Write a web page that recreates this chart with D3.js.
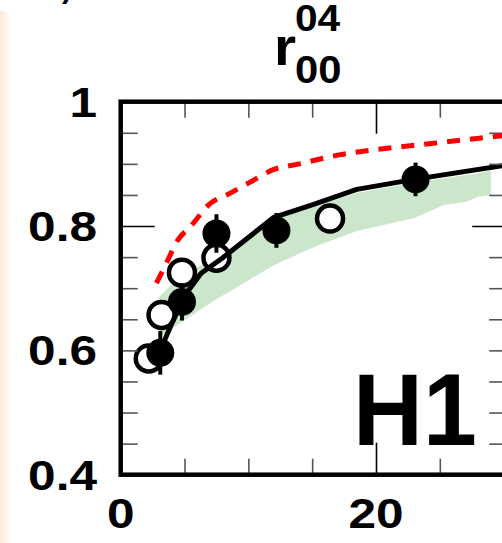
<!DOCTYPE html>
<html>
<head>
<meta charset="utf-8">
<script src="https://cdn.jsdelivr.net/npm/d3@7"></script>
<style>
  body { margin: 0; background: #fff; }
  svg { display: block; }
  text { font-family: "Liberation Sans", Arial, sans-serif; font-weight: bold; fill: #000; }
</style>
</head>
<body>
<script>
// filled points (data 1) with errors
let filledQ2 = [3.1, 4.8, 7.5, 12.2, 23.1];
let filledR = [0.596, 0.678, 0.788, 0.793, 0.875];
let filledErr = [0.035, 0.03, 0.031, 0.028, 0.027];

// open points (data 2)
let openQ2 = [2.2, 3.2, 4.8, 7.5, 16.4];
let openR = [0.587, 0.657, 0.725, 0.749, 0.812];

// model curves
let solidQ2 = [3.1, 4.0, 5.0, 6.3, 8.0, 12.0, 15.0, 18.5, 23.0, 30.2];
let solidR = [0.600, 0.643, 0.688, 0.724, 0.749, 0.814, 0.834, 0.859, 0.875, 0.898];

let dashQ2 = [2.8, 3.5, 4.5, 5.5, 7.0, 8.5, 10, 12, 14, 17, 20, 24, 30.2];
let dashR = [0.708, 0.737, 0.778, 0.800, 0.836, 0.852, 0.869, 0.891, 0.900, 0.914, 0.923, 0.932, 0.946];

// green band
let bandQ2 = [3.0, 4.1, 5.7, 7.3, 9.3, 12, 15, 18.5, 23, 25.3, 27.1, 28.0, 29.0];
let bandLow = [0.620, 0.636, 0.658, 0.680, 0.704, 0.737, 0.765, 0.792, 0.813, 0.834, 0.839, 0.847, 0.850];
let bandHigh = [0.686, 0.708, 0.729, 0.750, 0.772, 0.810, 0.830, 0.853, 0.870, 0.877, 0.882, 0.885, 0.889];

let xTickLabels = [0, 20];
let yTickLabels = [0.4, 0.6, 0.8, 1];
let xMinor = [5, 10, 15, 25];
let xMajor = [20];
let yMinor = [0.45, 0.5, 0.55, 0.6, 0.65, 0.7, 0.75, 0.85, 0.9, 0.95];
let yMajor = [0.8];

let svgWidth = 502;
let svgHeight = 543;

let svg = d3.select('body')
  .append('svg')
  .attr('width', svgWidth)
  .attr('height', svgHeight);

// soft peach edge at the left
let grad = svg.append('defs').append('linearGradient')
  .attr('id', 'edge')
  .attr('x1', '0').attr('x2', '1').attr('y1', '0').attr('y2', '0');
grad.append('stop').attr('offset', '0').attr('stop-color', '#fbe2c4');
grad.append('stop').attr('offset', '0.6').attr('stop-color', '#fdeedd');
grad.append('stop').attr('offset', '1').attr('stop-color', '#ffffff');

svg.append('rect')
  .attr('x', -10).attr('y', 11)
  .attr('width', 21).attr('height', 560)
  .attr('rx', 8)
  .attr('fill', 'url(#edge)');

let x = d3.scaleLinear().domain([0, 30.2]).range([120.7, 120.7 + 30.2 * 12.765]);
let y = d3.scaleLinear().domain([0.4, 1]).range([474.7, 101.7]);

let x0 = x(0), x1 = x(30.2), y0 = y(0.4), y1 = y(1);

// band
let band = bandQ2.map((q, i) => ({ q: q, lo: bandLow[i], hi: bandHigh[i] }));
svg.append('path')
  .datum(band)
  .attr('fill', '#cce6cb')
  .attr('d', d3.area().x(d => x(d.q)).y0(d => y(d.lo)).y1(d => y(d.hi)));

// red dashed curve
svg.append('path')
  .datum(dashQ2.map((q, i) => [q, dashR[i]]))
  .attr('fill', 'none')
  .attr('stroke', '#ff0000')
  .attr('stroke-width', 5)
  .attr('stroke-dasharray', '13,10')
  .attr('d', d3.line().x(d => x(d[0])).y(d => y(d[1])).curve(d3.curveMonotoneX));

// open circles
svg.selectAll('.open')
  .data(openQ2.map((q, i) => [q, openR[i]]))
  .enter()
  .append('circle')
  .attr('cx', d => x(d[0]))
  .attr('cy', d => y(d[1]))
  .attr('r', 13)
  .attr('fill', '#fff')
  .attr('stroke', '#000')
  .attr('stroke-width', 4.5);

// black solid curve
svg.append('path')
  .datum(solidQ2.map((q, i) => [q, solidR[i]]))
  .attr('fill', 'none')
  .attr('stroke', '#000')
  .attr('stroke-width', 5)
  .attr('stroke-linejoin', 'round')
  .attr('d', d3.line().x(d => x(d[0])).y(d => y(d[1])));

// filled points with error bars
let filled = filledQ2.map((q, i) => ({ q: q, r: filledR[i], e: filledErr[i] }));
svg.selectAll('.err')
  .data(filled)
  .enter()
  .append('line')
  .attr('x1', d => x(d.q)).attr('x2', d => x(d.q))
  .attr('y1', d => y(d.r - d.e)).attr('y2', d => y(d.r + d.e))
  .attr('stroke', '#000')
  .attr('stroke-width', 4);

svg.selectAll('.filled')
  .data(filled)
  .enter()
  .append('circle')
  .attr('cx', d => x(d.q))
  .attr('cy', d => y(d.r))
  .attr('r', 14)
  .attr('fill', '#000');

// ticks, drawn inward on all four sides
function ticks(axis, values, size, color, transform) {
  let g = svg.append('g')
    .attr('transform', transform)
    .call(axis.tickValues(values).tickSize(-size).tickFormat(''));
  g.select('.domain').remove();
  g.selectAll('line').attr('stroke', color).attr('stroke-width', 1.6);
}
ticks(d3.axisBottom(x), xMinor, 16, '#555', `translate(0,${y0})`);
ticks(d3.axisBottom(x), xMajor, 32, '#000', `translate(0,${y0})`);
ticks(d3.axisTop(x), xMinor, 16, '#555', `translate(0,${y1})`);
ticks(d3.axisTop(x), xMajor, 32, '#000', `translate(0,${y1})`);
ticks(d3.axisLeft(y), yMinor, 17, '#555', `translate(${x0},0)`);
ticks(d3.axisLeft(y), yMajor, 34, '#000', `translate(${x0},0)`);
ticks(d3.axisRight(y), yMinor, 17, '#555', `translate(${x1},0)`);
ticks(d3.axisRight(y), yMajor, 34, '#000', `translate(${x1},0)`);

// frame
svg.append('rect')
  .attr('x', x0).attr('y', y1)
  .attr('width', x1 - x0).attr('height', y0 - y1)
  .attr('fill', 'none')
  .attr('stroke', '#000')
  .attr('stroke-width', 4.5);

// stretched bold text helper
function label(tx, ty, str, size, anchor, sx) {
  return svg.append('text')
    .attr('transform', `translate(${tx},${ty}) scale(${sx},1)`)
    .attr('text-anchor', anchor)
    .style('font-size', size + 'px')
    .text(str);
}

yTickLabels.forEach(v => label(97, y(v) + 15, d3.format('')(v), 42, 'end', 1.18));
xTickLabels.forEach(v => label(x(v), 528, v, 42, 'middle', 1.18));

// title r^04_00
label(274, 65, 'r', 54, 'start', 1.05);
label(295, 31, '04', 36, 'start', 1.13);
label(295, 83, '00', 38, 'start', 1.1);

// corner leftover glyph
label(62, -2, ')', 30, 'start', 1);

// experiment tag
label(353, 445, 'H1', 102, 'start', 0.95);
</script>
</body>
</html>
